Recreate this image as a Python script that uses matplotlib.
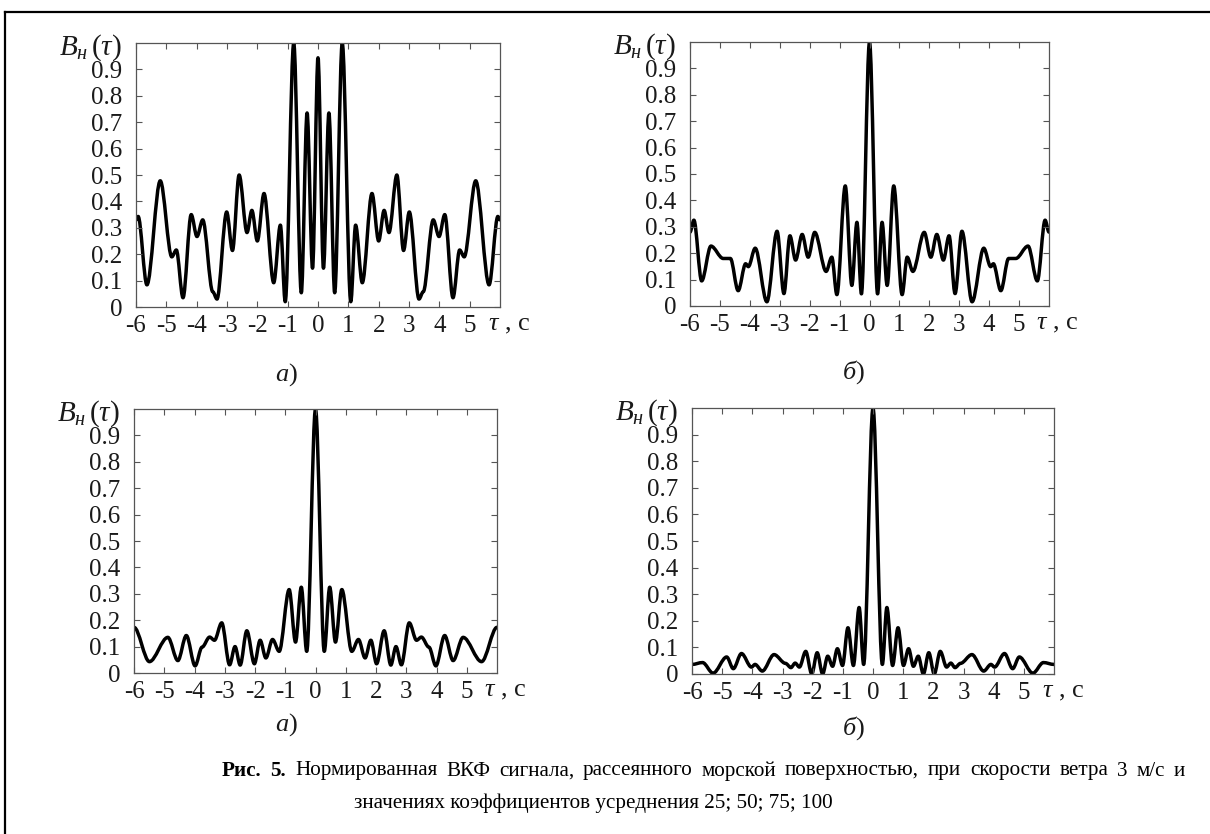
import matplotlib
matplotlib.use("Agg")
import matplotlib.pyplot as plt
import numpy as np
from matplotlib.path import Path
from matplotlib.patches import PathPatch
from matplotlib.lines import Line2D

plt.rcParams["font.family"] = ["Liberation Serif", "DejaVu Serif"]
plt.rcParams["mathtext.fontset"] = "custom"
plt.rcParams["mathtext.rm"] = "Liberation Serif"
plt.rcParams["mathtext.it"] = "Liberation Serif:italic"
plt.rcParams["mathtext.bf"] = "Liberation Serif:bold"
plt.rcParams["axes.unicode_minus"] = False

# Экстремумы кривых для tau >= 0 (кривые симметричны относительно нуля)
tau_a1 = [0, 0.18, 0.36, 0.55, 0.8, 1.08, 1.24, 1.46, 1.78, 2.0, 2.18, 2.34, 2.6,
          2.82, 3.01, 3.33, 3.47, 3.8, 3.99, 4.18, 4.45, 4.67, 4.82, 5.2, 5.64, 5.93, 6.0]
b_a1 = [0.944, 0.147, 0.735, 0.054, 1.0, 0.02, 0.31, 0.092, 0.43, 0.25, 0.366, 0.282, 0.50,
        0.214, 0.36, 0.03, 0.058, 0.33, 0.267, 0.35, 0.035, 0.216, 0.19, 0.478, 0.084, 0.343, 0.33]

tau_b1 = [0, 0.27, 0.42, 0.59, 0.81, 1.09, 1.26, 1.45, 1.83, 2.05, 2.25, 2.47, 2.66,
          2.86, 3.09, 3.43, 3.82, 4.05, 4.14, 4.39, 4.65, 4.89, 5.3, 5.61, 5.87, 6.0]
b_b1 = [1.0, 0.046, 0.317, 0.078, 0.455, 0.043, 0.185, 0.131, 0.279, 0.185, 0.271, 0.174, 0.266,
        0.047, 0.283, 0.016, 0.219, 0.149, 0.16, 0.058, 0.18, 0.18, 0.227, 0.095, 0.325, 0.28]

tau_a2 = [0, 0.29, 0.47, 0.66, 0.87, 1.2, 1.42, 1.64, 1.83, 2.02, 2.27, 2.49, 2.66,
          2.84, 3.1, 3.34, 3.5, 3.75, 3.98, 4.27, 4.55, 4.88, 5.49, 6.0]
b_a2 = [1.0, 0.082, 0.325, 0.117, 0.316, 0.082, 0.127, 0.057, 0.124, 0.035, 0.16, 0.03, 0.1,
        0.031, 0.19, 0.124, 0.136, 0.098, 0.027, 0.142, 0.047, 0.135, 0.043, 0.173]

tau_b2 = [0, 0.31, 0.46, 0.65, 0.83, 1.01, 1.18, 1.34, 1.5, 1.67, 1.85, 2.03, 2.23, 2.44,
          2.58, 2.72, 2.9, 3.28, 3.67, 3.91, 4.03, 4.36, 4.63, 4.85, 5.3, 5.65, 6.0]
b_b2 = [1.0, 0.036, 0.25, 0.032, 0.174, 0.032, 0.095, 0.029, 0.067, 0.0, 0.08, 0.0, 0.085, 0.026,
        0.041, 0.024, 0.04, 0.073, 0.011, 0.036, 0.026, 0.077, 0.02, 0.064, 0.003, 0.043, 0.036]

x_ticks = [-6, -5, -4, -3, -2, -1, 0, 1, 2, 3, 4, 5]
y_ticks = [0, 0.1, 0.2, 0.3, 0.4, 0.5, 0.6, 0.7, 0.8, 0.9]
y_ticklabels = ["0", "0.1", "0.2", "0.3", "0.4", "0.5", "0.6", "0.7", "0.8", "0.9"]
panel_labels = ["$а$)", "$б$)", "$а$)", "$б$)"]
caption_bold = "Рис. 5."
caption_1 = "Нормированная ВКФ сигнала, рассеянного морской поверхностью, при скорости ветра 3 м/с и"
caption_2 = "значениях коэффициентов усреднения 25; 50; 75; 100"

W, H = 1210, 834
TXT = "#1a1a1a"


def mirror(t, b):
    t = np.asarray(t)
    b = np.asarray(b)
    return np.concatenate([-t[:0:-1], t]), np.concatenate([b[:0:-1], b])


# Гладкая кривая через экстремумы (кривые Безье с горизонтальными касательными)
def smooth_path(xs, ys):
    verts = [(xs[0], ys[0])]
    codes = [Path.MOVETO]
    for i in range(len(xs) - 1):
        dx = xs[i + 1] - xs[i]
        verts += [(xs[i] + dx / 3, ys[i]), (xs[i + 1] - dx / 3, ys[i + 1]), (xs[i + 1], ys[i + 1])]
        codes += [Path.CURVE4] * 3
    return Path(verts, codes)


def px_rect(left, top, right, bottom):
    return [left / W, 1 - bottom / H, (right - left) / W, (bottom - top) / H]


fig = plt.figure(figsize=(W / 100, H / 100), dpi=100)

rects = [px_rect(136, 43, 500, 307), px_rect(690, 42, 1049, 306),
         px_rect(134, 409, 497, 673), px_rect(692, 408, 1054, 674)]
series = [(tau_a1, b_a1), (tau_b1, b_b1), (tau_a2, b_a2), (tau_b2, b_b2)]
label_pos = [(286, 375), (853, 372), (286, 725), (853, 728)]

for rect, (t, b), lab, (lx, ly) in zip(rects, series, panel_labels, label_pos):
    ax = fig.add_axes(rect)
    xs, ys = mirror(t, b)
    ax.add_patch(PathPatch(smooth_path(xs, ys), fill=False, lw=2.5, ec="black",
                           capstyle="round", joinstyle="round"))
    ax.set_xlim(-6, 6)
    ax.set_ylim(0, 1)
    ax.set_xticks(x_ticks)
    ax.set_xticklabels([str(v) for v in x_ticks])
    ax.set_yticks(y_ticks)
    ax.set_yticklabels(y_ticklabels)
    ax.tick_params(direction="in", length=4, width=0.8, color="#555555",
                   labelsize=18, labelcolor=TXT, top=True, right=True)
    ax.tick_params(axis="x", pad=6)
    ax.tick_params(axis="y", pad=10)
    for s in ax.spines.values():
        s.set_color("#555555")
        s.set_linewidth(0.9)
    # подпись оси ординат
    ax.annotate(r"$B_н\,(\tau)$", xy=(0, 1), xycoords="axes fraction",
                xytext=(-10, -3.5), textcoords="offset points",
                ha="right", va="center", fontsize=21, color=TXT)
    # подпись оси абсцисс
    ax.annotate(r"$\tau$ , с", xy=(1, 0), xycoords="axes fraction",
                xytext=(-9, -5), textcoords="offset points",
                ha="left", va="top", fontsize=19, color=TXT)
    fig.text(lx / W, 1 - ly / H, lab, ha="center", va="center", fontsize=19, color=TXT)

# подпись рисунка: первая строка выровнена по ширине
cap_size = 15.2
words = [(w, "bold") for w in caption_bold.split()] + [(w, "normal") for w in caption_1.split()]
items = [fig.text(0, 1 - 771 / H, w, fontsize=cap_size, fontweight=fw, ha="left",
                  va="center", color="black") for w, fw in words]
renderer = fig.canvas.get_renderer()
widths = [it.get_window_extent(renderer).width for it in items]
x0, x1 = 222, 1185
gap = (x1 - x0 - sum(widths)) / (len(items) - 1)
xpos = x0
for it, wd in zip(items, widths):
    it.set_x(xpos / W)
    xpos += wd + gap
fig.text(593 / W, 1 - 803 / H, caption_2, ha="center", va="center", fontsize=cap_size, color="black")

# рамка
fig.add_artist(Line2D([5 / W, 1], [1 - 12 / H, 1 - 12 / H], transform=fig.transFigure,
                      color="black", lw=1.6))
fig.add_artist(Line2D([5 / W, 5 / W], [0, 1 - 12 / H], transform=fig.transFigure,
                      color="black", lw=1.6))

fig.savefig("out.png", dpi=100)
